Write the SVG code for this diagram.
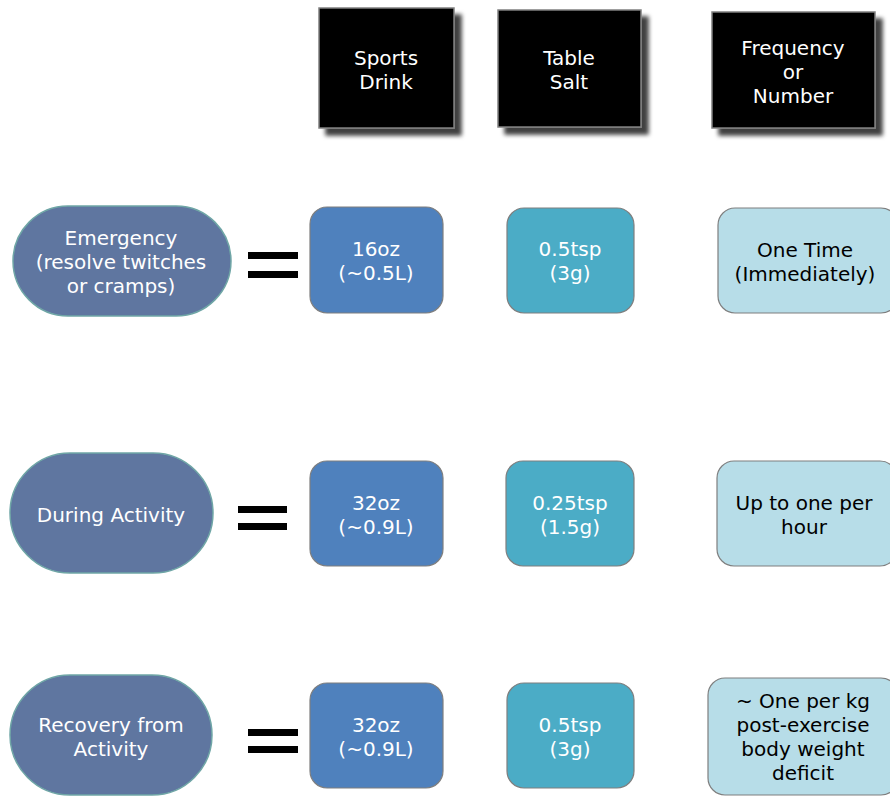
<svg xmlns="http://www.w3.org/2000/svg" width="890" height="796" viewBox="0 0 890 796">
<defs>
<filter id="sh" x="-10%" y="-10%" width="130%" height="130%">
<feDropShadow dx="7" dy="7" stdDeviation="2" flood-color="#000" flood-opacity="0.75"/>
</filter>
<style>
text{font-family:"DejaVu Sans","Verdana",sans-serif;font-size:20px;text-anchor:middle}
.hdr rect{fill:#000;stroke:#808080;stroke-width:1.5;filter:url(#sh)}
.hdr text{fill:#fff}
.pill{fill:#5f76a0;stroke:#6fa6a6;stroke-width:1.5}
.blue{fill:#4f81bd;stroke:#7f7f7f;stroke-width:1.2}
.teal{fill:#4bacc6;stroke:#7f7f7f;stroke-width:1.2}
.light{fill:#b7dde8;stroke:#7f7f7f;stroke-width:1.2}
.w{fill:#fff}
.k{fill:#000}
.eq{fill:#000}
</style>
</defs>
<rect width="890" height="796" fill="#fff"/>

<g id="hdr-sports" class="hdr"><rect x="319" y="8" width="135" height="120"/><text x="386" y="65">Sports</text><text x="386" y="89">Drink</text></g>
<g id="hdr-salt" class="hdr"><rect x="498" y="10" width="143" height="117"/><text x="569" y="65">Table</text><text x="569" y="89">Salt</text></g>
<g id="hdr-freq" class="hdr"><rect x="712" y="12" width="163" height="116"/><text x="793" y="55">Frequency</text><text x="793" y="79">or</text><text x="793" y="103">Number</text></g>

<g id="row1-label"><rect class="pill" x="13" y="206" width="218" height="110" rx="55"/><text class="w" x="121" y="245">Emergency</text><text class="w" x="121" y="269">(resolve twitches</text><text class="w" x="121" y="293">or cramps)</text></g>
<g id="row1-eq"><rect class="eq" x="248" y="252" width="50" height="7"/><rect class="eq" x="248" y="271" width="50" height="7"/></g>
<g id="row1-drink"><rect class="blue" x="310" y="207" width="133" height="106" rx="17"/><text class="w" x="376" y="256">16oz</text><text class="w" x="376" y="280">(~0.5L)</text></g>
<g id="row1-salt"><rect class="teal" x="507" y="208" width="127" height="105" rx="17"/><text class="w" x="570" y="256">0.5tsp</text><text class="w" x="570" y="280">(3g)</text></g>
<g id="row1-freq"><rect class="light" x="718" y="208" width="180" height="105" rx="17"/><text class="k" x="805" y="257">One Time</text><text class="k" x="805" y="281">(Immediately)</text></g>

<g id="row2-label"><rect class="pill" x="10" y="453" width="203" height="120" rx="60"/><text class="w" x="111" y="522">During Activity</text></g>
<g id="row2-eq"><rect class="eq" x="238" y="506" width="49" height="7"/><rect class="eq" x="238" y="523" width="49" height="7"/></g>
<g id="row2-drink"><rect class="blue" x="310" y="461" width="133" height="105" rx="17"/><text class="w" x="376" y="510">32oz</text><text class="w" x="376" y="534">(~0.9L)</text></g>
<g id="row2-salt"><rect class="teal" x="506" y="461" width="128" height="105" rx="17"/><text class="w" x="570" y="510">0.25tsp</text><text class="w" x="570" y="534">(1.5g)</text></g>
<g id="row2-freq"><rect class="light" x="717" y="461" width="180" height="105" rx="17"/><text class="k" x="804" y="510">Up to one per</text><text class="k" x="804" y="534">hour</text></g>

<g id="row3-label"><rect class="pill" x="10" y="675" width="202" height="120" rx="60"/><text class="w" x="111" y="732">Recovery from</text><text class="w" x="111" y="756">Activity</text></g>
<g id="row3-eq"><rect class="eq" x="248" y="729" width="50" height="7"/><rect class="eq" x="248" y="746" width="50" height="7"/></g>
<g id="row3-drink"><rect class="blue" x="310" y="683" width="133" height="105" rx="17"/><text class="w" x="376" y="732">32oz</text><text class="w" x="376" y="756">(~0.9L)</text></g>
<g id="row3-salt"><rect class="teal" x="507" y="683" width="127" height="105" rx="17"/><text class="w" x="570" y="732">0.5tsp</text><text class="w" x="570" y="756">(3g)</text></g>
<g id="row3-freq"><rect class="light" x="708" y="678" width="190" height="117" rx="17"/><text class="k" x="803" y="708">~ One per kg</text><text class="k" x="803" y="732">post-exercise</text><text class="k" x="803" y="756">body weight</text><text class="k" x="803" y="780">deficit</text></g>
</svg>
